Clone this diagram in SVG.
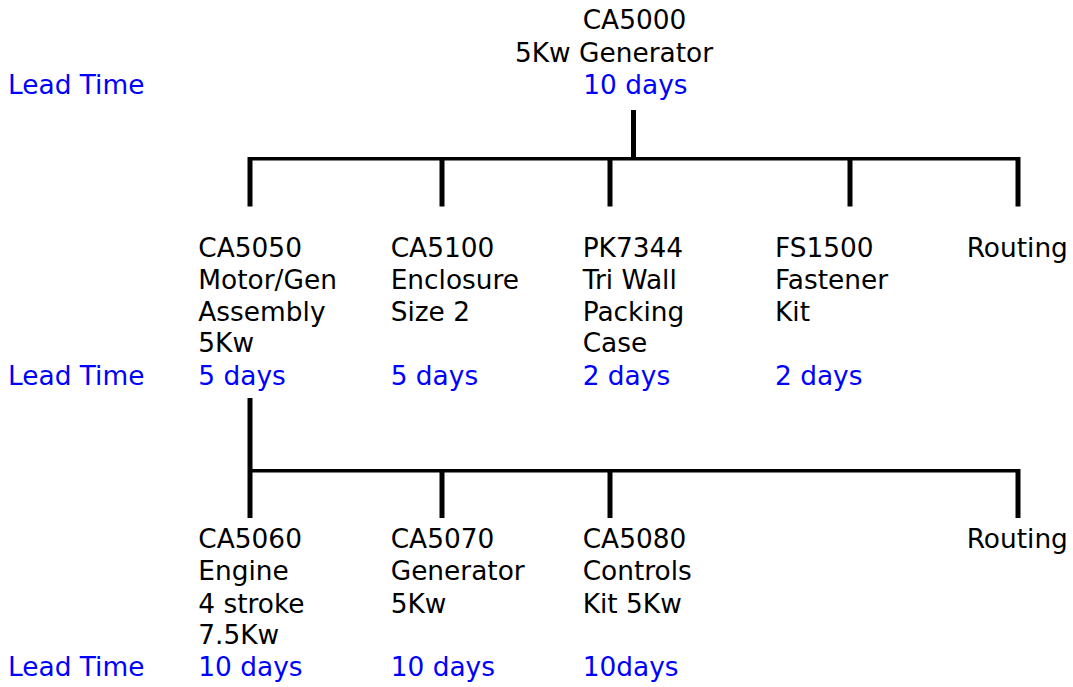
<svg xmlns="http://www.w3.org/2000/svg" width="1073" height="687" viewBox="0 0 1073 687">
<style>
text{font-family:"DejaVu Sans",Verdana,sans-serif;font-size:26.4px;fill:#000}
.lt{fill:#0000ff}
.v{stroke:#000;stroke-width:5;fill:none}
.h{stroke:#000;stroke-width:3.5;fill:none}
</style>
<rect width="1073" height="687" fill="#fff"/>
<g id="connectors">
<line class="v" x1="633.5" y1="110" x2="633.5" y2="159"/>
<line class="h" x1="250" y1="158.8" x2="1018" y2="158.8"/>
<line class="v" x1="250" y1="157" x2="250" y2="206.5"/>
<line class="v" x1="442" y1="157" x2="442" y2="206.5"/>
<line class="v" x1="610" y1="157" x2="610" y2="206.5"/>
<line class="v" x1="850" y1="157" x2="850" y2="206.5"/>
<line class="v" x1="1018" y1="157" x2="1018" y2="206.5"/>
<line class="v" x1="250" y1="398" x2="250" y2="518"/>
<line class="h" x1="250" y1="470.8" x2="1018" y2="470.8"/>
<line class="v" x1="442" y1="469" x2="442" y2="518"/>
<line class="v" x1="610" y1="469" x2="610" y2="518"/>
<line class="v" x1="1018" y1="469" x2="1018" y2="518"/>
</g>
<g id="labels">
<text class="lt" x="8" y="93.5">Lead Time</text>
<text class="lt" x="8" y="385">Lead Time</text>
<text class="lt" x="8" y="676">Lead Time</text>
</g>
<g id="CA5000">
<text x="582.7" y="29.3">CA5000</text>
<text x="515" y="61.5">5Kw Generator</text>
<text class="lt" x="583.3" y="93.5">10 days</text>
</g>
<g id="CA5050">
<text x="198.3" y="257">CA5050</text>
<text x="198.3" y="289">Motor/Gen</text>
<text x="198.3" y="320.5">Assembly</text>
<text x="198.3" y="352">5Kw</text>
<text class="lt" x="198.3" y="385">5 days</text>
</g>
<g id="CA5100">
<text x="390.7" y="257">CA5100</text>
<text x="390.7" y="289">Enclosure</text>
<text x="390.7" y="320.5">Size 2</text>
<text class="lt" x="390.7" y="385">5 days</text>
</g>
<g id="PK7344">
<text x="582.7" y="257">PK7344</text>
<text x="582.7" y="289">Tri Wall</text>
<text x="582.7" y="320.5">Packing</text>
<text x="582.7" y="352">Case</text>
<text class="lt" x="582.7" y="385">2 days</text>
</g>
<g id="FS1500">
<text x="775" y="257">FS1500</text>
<text x="775" y="289">Fastener</text>
<text x="775" y="320.5">Kit</text>
<text class="lt" x="775" y="385">2 days</text>
</g>
<g id="Routing1">
<text x="966.7" y="257">Routing</text>
</g>
<g id="CA5060">
<text x="198.3" y="548.3">CA5060</text>
<text x="198.3" y="580">Engine</text>
<text x="198.3" y="612.5">4 stroke</text>
<text x="198.3" y="644">7.5Kw</text>
<text class="lt" x="198.3" y="676">10 days</text>
</g>
<g id="CA5070">
<text x="390.7" y="548.3">CA5070</text>
<text x="390.7" y="580">Generator</text>
<text x="390.7" y="612.5">5Kw</text>
<text class="lt" x="390.7" y="676">10 days</text>
</g>
<g id="CA5080">
<text x="582.7" y="548.3">CA5080</text>
<text x="582.7" y="580">Controls</text>
<text x="582.7" y="612.5">Kit 5Kw</text>
<text class="lt" x="582.7" y="676">10days</text>
</g>
<g id="Routing2">
<text x="966.7" y="548.3">Routing</text>
</g>
</svg>
